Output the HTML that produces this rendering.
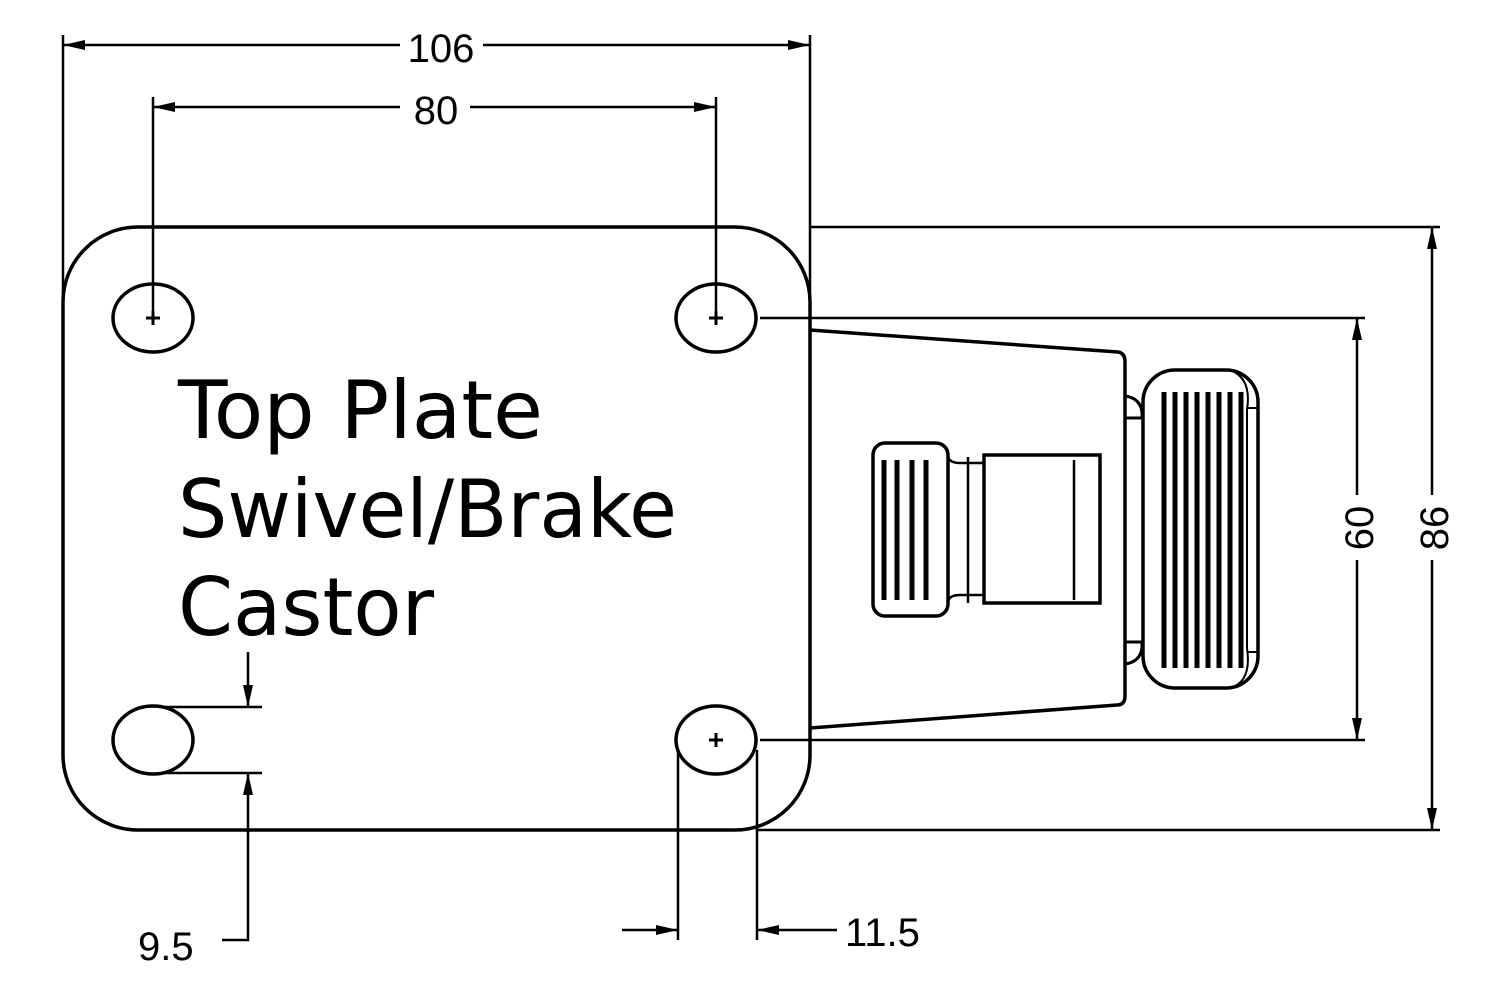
<!DOCTYPE html>
<html><head><style>body{margin:0;background:#fff}svg{display:block}</style></head><body>
<svg width="1502" height="985" viewBox="0 0 1502 985" xmlns="http://www.w3.org/2000/svg">
<defs>
<marker id="a" viewBox="0 0 22 10" refX="22" refY="5" markerWidth="22" markerHeight="10" markerUnits="userSpaceOnUse" orient="auto"><path d="M0,0L22,5L0,10z" fill="#000"/></marker>
</defs>
<g fill="none" stroke="#000">
<path d="M63,302 A75,75 0 0 1 138,227 L735,227 A75,75 0 0 1 810,302 L810,755 A75,75 0 0 1 735,830 L138,830 A75,75 0 0 1 63,755 Z" stroke-width="3.5"/>
<ellipse cx="153" cy="318" rx="40" ry="34" stroke-width="3.5"/>
<ellipse cx="716" cy="318" rx="40" ry="34" stroke-width="3.5"/>
<ellipse cx="153" cy="740" rx="40" ry="34" stroke-width="3.5"/>
<ellipse cx="716" cy="740" rx="40" ry="34" stroke-width="3.5"/>
<g stroke-width="3">
<path d="M146,318h14M153,311v14M709,318h14M716,311v14M709,740h14M716,733v14"/>
</g>
<path d="M810,330 L1118,352 Q1125,353 1125,362 L1125,696 Q1125,705 1117,705 L810,728" stroke-width="3.5"/>
<path d="M1125,396 Q1140,398 1142,412 L1142,418 L1125,418 M1125,664 Q1140,662 1142,648 L1142,642 L1125,642" stroke-width="3"/>
<rect x="1143" y="370" width="115" height="318" rx="32" stroke-width="3.5"/>
<path d="M1230,370 Q1252,378 1247,410 L1247,648 Q1252,682 1230,688 M1247,408 L1258,408 M1247,652 L1258,652" stroke-width="2"/>
<g stroke-width="5">
<path d="M1164,392v276M1175,392v276M1186,392v276M1197,392v276M1208,392v276M1219,392v276M1230,392v276M1241,392v276"/>
</g>
<rect x="873" y="443" width="75" height="173" rx="12" stroke-width="3.5"/>
<g stroke-width="5">
<path d="M884,460v140M897,460v140M912,460v140M926,460v140"/>
</g>
<rect x="984" y="455" width="116" height="148" stroke-width="3.5"/>
<path d="M948,457 Q950,463 960,463 L984,463 M948,601 Q950,595 960,595 L984,595 M968,457v146M1074,460v140" stroke-width="2.5"/>
<g stroke-width="2.5">
<path d="M63,35V300M810,35V320M153,97V318M716,97V318"/>
<path d="M400,45H63" marker-end="url(#a)"/><path d="M483,45H810" marker-end="url(#a)"/>
<path d="M400,107H153" marker-end="url(#a)"/><path d="M470,107H716" marker-end="url(#a)"/>
<path d="M810,227H1440M758,830H1440M760,318H1365M760,740H1365"/>
<path d="M1432,495V227" marker-end="url(#a)"/><path d="M1432,560V830" marker-end="url(#a)"/>
<path d="M1357,495V318" marker-end="url(#a)"/><path d="M1357,560V740" marker-end="url(#a)"/>
<path d="M165,707H262M165,773H262"/>
<path d="M248,652V707" marker-end="url(#a)"/>
<path d="M222,940H248V773" marker-end="url(#a)"/>
<path d="M678,750V940M757,750V940"/>
<path d="M622,930H678" marker-end="url(#a)"/><path d="M837,930H757" marker-end="url(#a)"/>
</g>
</g>
<g font-family="Liberation Sans Narrow, Liberation Sans, sans-serif" font-size="40" fill="#000">
<text x="441" y="62" text-anchor="middle">106</text>
<text x="436" y="124" text-anchor="middle">80</text>
<text x="138" y="960">9.5</text>
<text x="845" y="946">11.5</text>
<text transform="translate(1373,528) rotate(-90)" text-anchor="middle">60</text>
<text transform="translate(1448,528) rotate(-90)" text-anchor="middle">86</text>
</g>
<g font-family="DejaVu Sans, sans-serif" font-size="80" fill="#000">
<text x="178" y="438" textLength="365" lengthAdjust="spacingAndGlyphs">Top Plate</text>
<text x="178" y="537" textLength="499" lengthAdjust="spacingAndGlyphs">Swivel/Brake</text>
<text x="178" y="635" textLength="256" lengthAdjust="spacingAndGlyphs">Castor</text>
</g>
</svg>
</body></html>
